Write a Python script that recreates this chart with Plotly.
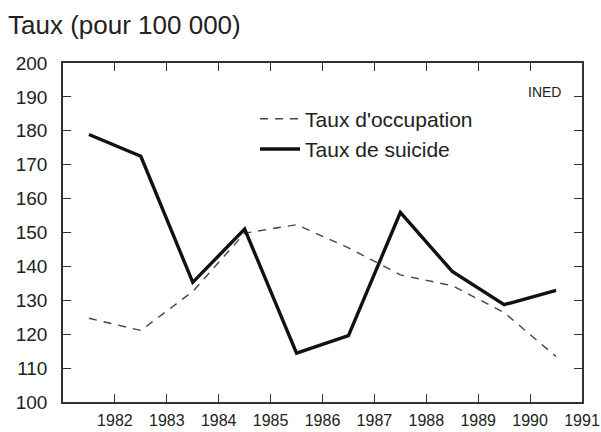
import plotly.graph_objects as go

years = [1981.5, 1982.5, 1983.5, 1984.5, 1985.5, 1986.5, 1987.5, 1988.5, 1989.5, 1990.5]
taux_occupation = [124.7, 121.1, 132.6, 149.8, 152.3, 145.5, 137.5, 134.3, 126.4, 113.4]
taux_suicide = [178.9, 172.5, 135.3, 151.0, 114.4, 119.6, 155.9, 138.5, 128.7, 132.9]
x_ticks = [1982, 1983, 1984, 1985, 1986, 1987, 1988, 1989, 1990, 1991]
y_ticks = [100, 110, 120, 130, 140, 150, 160, 170, 180, 190, 200]

FONT = "Liberation Sans, Arial, Helvetica, sans-serif"

fig = go.Figure()
fig.add_trace(go.Scatter(
    x=years, y=taux_occupation, mode="lines", name="Taux d'occupation",
    line=dict(color="#444444", width=1.4, dash="8px,7px"),
))
fig.add_trace(go.Scatter(
    x=years, y=taux_suicide, mode="lines", name="Taux de suicide",
    line=dict(color="#111111", width=3.4),
))

axis_common = dict(
    showline=True, mirror="ticks", linecolor="#333333", linewidth=1.5,
    ticks="inside", ticklen=8, tickwidth=1.3, tickcolor="#333333",
    showgrid=False, zeroline=False, automargin=False,
)
fig.update_xaxes(range=[1981, 1991], tickmode="array", tickvals=x_ticks,
                 ticktext=[str(v) for v in x_ticks],
                 tickfont=dict(family=FONT, size=16, color="#222222"),
                 ticklabelstandoff=3, **axis_common)
fig.update_yaxes(range=[100, 200], tickmode="array", tickvals=y_ticks,
                 ticktext=[str(v) for v in y_ticks],
                 tickfont=dict(family=FONT, size=19, color="#222222"),
                 ticklabelstandoff=10, **axis_common)

fig.update_layout(
    width=601, height=432,
    margin=dict(l=63, r=19, t=63, b=30, autoexpand=False),
    paper_bgcolor="white", plot_bgcolor="white",
    font=dict(family=FONT, color="#222222"),
    title=dict(text="Taux (pour 100 000)", x=8/601, xanchor="left", xref="container",
               y=1-25/432, yanchor="middle", yref="container",
               font=dict(family=FONT, size=26, color="#222222")),
    showlegend=True,
    legend=dict(x=0.37, y=0.895, xanchor="left", yanchor="top",
                bgcolor="rgba(0,0,0,0)", borderwidth=0, itemwidth=40,
                font=dict(family=FONT, size=21, color="#222222")),
    annotations=[dict(text="INED", x=0.928, y=0.914, xref="paper", yref="paper",
                      showarrow=False, xanchor="center", yanchor="middle",
                      font=dict(family=FONT, size=14, color="#222222"))],
)

fig.write_html("out.html", config={"displayModeBar": False},
               post_script="document.body.style.margin='0';document.body.style.overflow='hidden';")
